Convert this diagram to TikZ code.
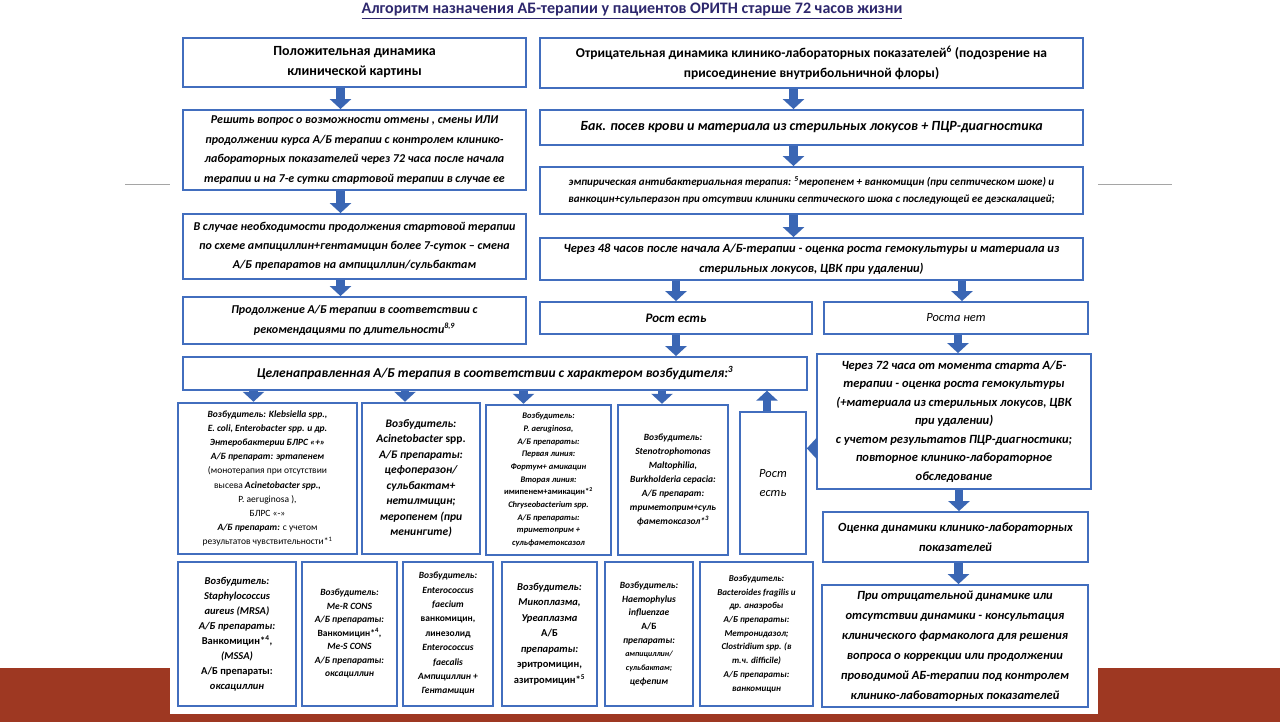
\documentclass[tikz,border=0pt]{standalone}
\usepackage{fontspec}
\setmainfont{Carlito}
\usetikzlibrary{arrows.meta}
\usetikzlibrary{positioning}
\definecolor{boxblue}{RGB}{66,110,190}
\definecolor{arrblue}{RGB}{58,102,180}
\definecolor{titleblue}{RGB}{46,40,110}
\definecolor{slidebar}{RGB}{158,56,34}
\definecolor{rulegray}{RGB}{165,165,165}
\newcommand{\fs}[2]{\fontsize{#1}{#2}\selectfont}
\newcommand{\up}[1]{{\upshape #1}}
\newcommand{\rg}[1]{{\upshape\mdseries #1}}

\begin{document}
\begin{tikzpicture}[x=1pt, y=-1pt,
    box/.style={draw=boxblue, line width=1.6pt, fill=white, inner sep=0pt, align=center},
    pbox/.style={box, line width=2.2pt},
    blk/.style={draw=arrblue, line width=8.5pt, -{Triangle[length=10pt, width=21pt]}}]
    % slide
    \fill[white] (0,0) rectangle (1280,720);
    \fill[slidebar] (0,666) rectangle (1280,720);
    \draw[rulegray, line width=0.8pt] (125,183) -- (170,183);
    \draw[rulegray, line width=0.8pt] (1098,183) -- (1172,183);
    \fill[white] (170,28) rectangle (1098,712);

    \node[text=titleblue, font=\bfseries\fs{16}{18}] (title) at (632,9)
      {\underline{Алгоритм назначения АБ-терапии у пациентов ОРИТН старше 72 часов жизни}};

    % left branch
    \node[box, minimum width=343pt, minimum height=49pt, font=\bfseries\fs{14}{20}] (pos) at (354.5,60.5)
      {Положительная динамика\\клинической картины};
    \node[box, minimum width=343pt, minimum height=80pt, font=\bfseries\itshape\fs{12}{19.5}] (decide) at (354.5,148)
      {Решить вопрос о возможности отмены , смены ИЛИ\\продолжении курса А/Б терапии с контролем клинико-\\лабораторных показателей через 72 часа после начала\\терапии и на 7-е сутки стартовой терапии в случае ее};
    \node[box, minimum width=343pt, minimum height=65pt, font=\bfseries\itshape\fs{12}{19}] (switch) at (354.5,244.5)
      {В случае необходимости продолжения стартовой терапии\\по схеме ампициллин+гентамицин более 7-суток – смена\\А/Б препаратов на ампициллин/сульбактам};
    \node[box, minimum width=343pt, minimum height=47pt, font=\bfseries\itshape\fs{12}{19.5}] (cont) at (354.5,318.5)
      {Продолжение А/Б терапии в соответствии с\\рекомендациями по длительности\textsuperscript{8,9}};

    % right branch
    \node[box, minimum width=543pt, minimum height=50pt, font=\bfseries\fs{13.5}{20}] (neg) at (811.5,61)
      {Отрицательная динамика клинико-лабораторных показателей\textsuperscript{6} (подозрение на\\присоединение внутрибольничной флоры)};
    \node[box, minimum width=543pt, minimum height=35pt, font=\bfseries\itshape\fs{14}{18}] (culture) at (811.5,125.5)
      {Бак. посев крови и материала из стерильных локусов + ПЦР-диагностика};
    \node[box, minimum width=543pt, minimum height=47pt, font=\bfseries\itshape\fs{11}{17}] (empir) at (811.5,188.5)
      {эмпирическая антибактериальная терапия: \textsuperscript{5}меропенем + ванкомицин (при септическом шоке) и\\ванкоцин+сульперазон при отсутвии клиники септического шока с последующей ее деэскалацией;};
    \node[box, minimum width=543pt, minimum height=42pt, font=\bfseries\itshape\fs{12.5}{20}] (check48) at (811.5,257)
      {Через 48 часов после начала А/Б-терапии - оценка роста гемокультуры и материала из\\стерильных локусов, ЦВК при удалении)};
    \node[box, minimum width=272pt, minimum height=32pt, font=\bfseries\itshape\fs{13}{16}] (growth) at (676,316) {Рост есть};
    \node[box, minimum width=264pt, minimum height=32pt, font=\itshape\fs{12.5}{16}] (nogrowth) at (956,316) {Роста нет};
    \node[box, minimum width=624pt, minimum height=33pt, font=\bfseries\itshape\fs{13.5}{16}] (target) at (495,371.5)
      {Целенаправленная А/Б терапия в соответствии с характером возбудителя:\textsuperscript{3}};
    \node[box, minimum width=274pt, minimum height=135pt, font=\bfseries\itshape\fs{12.5}{18.5}] (check72) at (954,419.5)
      {Через 72 часа от момента старта А/Б-\\терапии - оценка роста гемокультуры\\(+материала из стерильных локусов, ЦВК\\при удалении)\\с учетом результатов ПЦР-диагностики;\\повторное клинико-лабораторное\\обследование};
    \node[box, minimum width=265pt, minimum height=50pt, font=\bfseries\itshape\fs{12.5}{20}] (dyn) at (955.5,535)
      {Оценка динамики клинико-лабораторных\\показателей};
    \node[box, minimum width=266pt, minimum height=122pt, font=\bfseries\itshape\fs{12.5}{20}] (pharm) at (955,644)
      {При отрицательной динамике или\\отсутствии динамики - консультация\\клинического фармаколога для решения\\вопроса о коррекции или продолжении\\проводимой АБ-терапии под контролем\\клинико-лабоваторных показателей};
    \node[box, minimum width=66pt, minimum height=142pt, font=\itshape\fs{12.5}{19}] (growth2) at (773,481) {Рост\\есть};

    % pathogens, first row
    \node[pbox, minimum width=179pt, minimum height=151pt, font=\bfseries\itshape\fs{9.5}{14.2}] (p1) at (267.5,476.5)
      {Возбудитель: Klebsiella spp.,\\E. coli, Enterobacter spp. и др.\\Энтеробактерии БЛРС «+»\\А/Б препарат: эртапенем\\\rg{(монотерапия при отсутствии}\\\rg{высева} Acinetobacter spp.,\\\rg{P. aeruginosa ),}\\\rg{БЛРС «-»}\\А/Б препарат: \rg{с учетом}\\\rg{результатов чувствительности*\textsuperscript{1}}};
    \node[pbox, minimum width=118pt, minimum height=151pt, font=\bfseries\itshape\fs{11.5}{15.5}] (p2) at (421,476.5)
      {Возбудитель:\\Acinetobacter \up{spp.}\\А/Б препараты:\\цефоперазон/\\сульбактам+\\нетилмицин;\\меропенем (при\\менингите)};
    \node[pbox, minimum width=125pt, minimum height=150pt, font=\bfseries\itshape\fs{8.5}{12.7}] (p3) at (548.5,478)
      {Возбудитель:\\P. aeruginosa,\\А/Б препараты:\\Первая линия:\\Фортум+ амикацин\\Вторая линия:\\\up{имипенем+амикацин*\textsuperscript{2}}\\Chryseobacterium spp.\\А/Б препараты:\\триметоприм +\\сульфаметоксазол};
    \node[pbox, minimum width=110pt, minimum height=150pt, font=\bfseries\itshape\fs{9.5}{14}] (p4) at (673,478)
      {Возбудитель:\\Stenotrophomonas\\Maltophilia,\\Burkholderia cepacia:\\А/Б препарат:\\триметоприм+суль\\фаметоксазол*\textsuperscript{3}};

    % pathogens, second row
    \node[pbox, minimum width=118pt, minimum height=144pt, font=\bfseries\itshape\fs{10.5}{15}] (q1) at (237,632)
      {Возбудитель:\\Staphylococcus\\aureus (MRSA)\\А/Б препараты:\\\up{Ванкомицин*\textsuperscript{4},}\\(MSSA)\\\up{А/Б препараты:}\\оксациллин};
    \node[pbox, minimum width=95pt, minimum height=144pt, font=\bfseries\itshape\fs{9.5}{13.5}] (q2) at (349.5,632)
      {Возбудитель:\\Me-R CONS\\А/Б препараты:\\\up{Ванкомицин*\textsuperscript{4},}\\Me-S CONS\\А/Б препараты:\\оксациллин};
    \node[pbox, minimum width=90pt, minimum height=144pt, font=\bfseries\itshape\fs{9.5}{14.4}] (q3) at (448,632)
      {Возбудитель:\\Enterococcus\\faecium\\\up{ванкомицин,}\\\up{линезолид}\\Enterococcus\\faecalis\\Ампициллин +\\Гентамицин};
    \node[pbox, minimum width=95pt, minimum height=144pt, font=\bfseries\itshape\fs{10.5}{15.5}] (q4) at (549.5,632)
      {Возбудитель:\\Микоплазма,\\Уреаплазма\\\up{А/Б}\\препараты:\\\up{эритромицин,}\\\up{азитромицин*\textsuperscript{5}}};
    \node[pbox, minimum width=88pt, minimum height=144pt, font=\bfseries\itshape\fs{9.5}{13.7}] (q5) at (649,632)
      {Возбудитель:\\Haemophylus\\influenzae\\\up{А/Б}\\препараты:\\{\fs{8}{13.7}ампициллин/}\\{\fs{8}{13.7}сульбактам;}\\цефепим};
    \node[pbox, minimum width=113pt, minimum height=144pt, font=\bfseries\itshape\fs{9}{13.7}] (q6) at (756.5,632)
      {Возбудитель:\\Bacteroides fragilis и\\др. анаэробы\\А/Б препараты:\\Метронидазол;\\Clostridium spp. (в\\т.ч. difficile)\\А/Б препараты:\\ванкомицин};

    % arrows
    \draw[blk] ([xshift=-14pt]pos.south) -- ([xshift=-14pt]decide.north);
    \draw[blk] ([xshift=-14pt]decide.south) -- ([xshift=-14pt]switch.north);
    \draw[blk] ([xshift=-14pt]switch.south) -- ([xshift=-14pt]cont.north);
    \draw[blk] ([xshift=-18pt]neg.south) -- ([xshift=-18pt]culture.north);
    \draw[blk] ([xshift=-18pt]culture.south) -- ([xshift=-18pt]empir.north);
    \draw[blk] ([xshift=-18pt]empir.south) -- ([xshift=-18pt]check48.north);
    \draw[blk] (growth.north |- check48.south) -- (growth.north);
    \draw[blk] ([xshift=6pt]nogrowth.north |- check48.south) -- ([xshift=6pt]nogrowth.north);
    \draw[blk] (growth.south) -- (growth.south |- target.north);
    \draw[blk] ([xshift=2pt]nogrowth.south) -- ([xshift=2pt]nogrowth.south |- check72.north);
    \draw[blk] ([xshift=5pt]check72.south) -- ([xshift=5pt]check72.south |- dyn.north);
    \draw[blk] ([xshift=3pt]dyn.south) -- ([xshift=3pt]dyn.south |- pharm.north);
    \draw[blk] ([yshift=-27pt]check72.west) -- ([yshift=-27pt]check72.west -| growth2.east);
    \draw[blk] ([xshift=-6pt]growth2.north) -- ([xshift=-6pt]growth2.north |- target.south);
    \foreach \p/\dx in {p1/-14, p2/-16, p3/-25, p4/-11}
      \draw[blk] ([xshift=\dx pt]\p.north |- target.south) -- ([xshift=\dx pt]\p.north);
\end{tikzpicture}
\end{document}
